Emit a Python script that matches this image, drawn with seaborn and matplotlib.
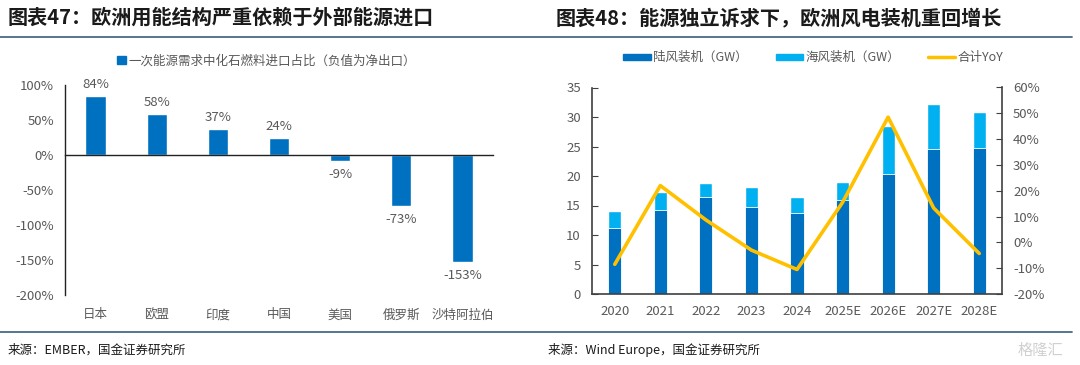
import numpy as np
import matplotlib
matplotlib.use("Agg")
import matplotlib.pyplot as plt
from matplotlib.patches import Patch
from matplotlib.lines import Line2D
from matplotlib.ticker import FuncFormatter
import seaborn as sns

# chart 47 data
countries = ['日本', '欧盟', '印度', '中国', '美国', '俄罗斯', '沙特阿拉伯']
import_share = [84, 58, 37, 24, -9, -73, -153]

# chart 48 data
years = ['2020', '2021', '2022', '2023', '2024', '2025E', '2026E', '2027E', '2028E']
onshore = [11.2, 14.3, 16.4, 14.7, 13.8, 15.9, 20.3, 24.6, 24.8]
offshore = [2.8, 3.0, 2.4, 3.5, 2.6, 3.1, 8.1, 7.6, 6.0]
yoy = [-8.5, 22.0, 8.7, -3.0, -10.5, 15.5, 48.5, 13.3, -4.3]

DARK = '#0070C0'
LIGHT = '#00B0F0'
YELLOW = '#FFC000'
TICK = '#595959'

sns.set_style('white')
plt.rcParams['font.family'] = ['Noto Sans CJK SC', 'DejaVu Sans']

fig = plt.figure(figsize=(10.8, 3.65), dpi=100)

# titles, separator lines, sources
fig.text(0.007, 0.952, '图表47：欧洲用能结构严重依赖于外部能源进口', fontsize=14.5,
         fontweight='bold', color='#1a1a1a', va='center')
fig.text(0.514, 0.952, '图表48：能源独立诉求下，欧洲风电装机重回增长', fontsize=14.5,
         fontweight='bold', color='#1a1a1a', va='center')
for yy in [1 - 37 / 365, 1 - 332 / 365]:
    fig.add_artist(Line2D([0.0, 0.993], [yy, yy], color='#4a6a88', lw=1.3))
fig.text(0.007, 0.04, '来源：EMBER，国金证券研究所', fontsize=9, color='#1a1a1a', va='center')
fig.text(0.507, 0.04, '来源：Wind Europe，国金证券研究所', fontsize=9, color='#1a1a1a', va='center')
fig.text(0.985, 0.04, '格隆汇', fontsize=11, color='#d0d0d0', va='center', ha='right')

# ---------------- left chart ----------------
ax1 = fig.add_axes([65 / 1080, 70 / 365, 428 / 1080, 210 / 365])
sns.barplot(x=countries, y=import_share, color=DARK, width=0.33, saturation=1, ax=ax1)
ax1.set_xlim(-0.5, len(countries) - 0.5)
ax1.set_ylim(-200, 100)
ax1.set_yticks(np.arange(-200, 101, 50))
ax1.yaxis.set_major_formatter(FuncFormatter(lambda v, p: f'{v:.0f}%'))
for s in ['top', 'right']:
    ax1.spines[s].set_visible(False)
ax1.spines['bottom'].set_position(('data', 0))
for s in ['left', 'bottom']:
    ax1.spines[s].set_color('#222222')
    ax1.spines[s].set_linewidth(1)
ax1.tick_params(axis='y', direction='in', length=4, colors='#222222', labelcolor=TICK,
                labelsize=9.5, pad=8)
ax1.set_xticks(np.arange(len(countries)))
ax1.set_xticklabels([])
ax1.tick_params(axis='x', which='major', length=0)
ax1.set_xticks(np.arange(0.5, len(countries) - 0.5, 1), minor=True)
ax1.tick_params(axis='x', which='minor', direction='in', length=4, colors='#222222')
for i, c in enumerate(countries):
    ax1.text(i, -0.095, c, transform=ax1.get_xaxis_transform(), ha='center', va='center',
             fontsize=9, color=TICK)
for i, v in enumerate(import_share):
    if v >= 0:
        ax1.annotate(f'{v}%', (i, v), xytext=(0, 4), textcoords='offset points',
                     ha='center', va='bottom', fontsize=9.5, color=TICK)
    else:
        ax1.annotate(f'{v}%', (i, v), xytext=(0, -5), textcoords='offset points',
                     ha='center', va='top', fontsize=9.5, color=TICK)
ax1.legend(handles=[Patch(color=DARK, label='一次能源需求中化石燃料进口占比（负值为净出口）')],
           loc='center', bbox_to_anchor=(0.47, 1.115), frameon=False, fontsize=9,
           handlelength=0.7, handleheight=0.7, handletextpad=0.2,
           labelcolor=TICK)

# ---------------- right chart ----------------
ax2 = fig.add_axes([592 / 1080, 71 / 365, 410 / 1080, 206.5 / 365])
totals = [a + b for a, b in zip(onshore, offshore)]
sns.barplot(x=years, y=totals, color=LIGHT, width=0.29, saturation=1, ax=ax2)
sns.barplot(x=years, y=onshore, color=DARK, width=0.29, saturation=1, ax=ax2,
            edgecolor='white', linewidth=0.6)
ax2.set_xlim(-0.5, len(years) - 0.5)
ax2.set_ylim(0, 35)
ax2.set_yticks(np.arange(0, 36, 5))
for s in ['top', 'right']:
    ax2.spines[s].set_visible(False)
for s in ['left', 'bottom']:
    ax2.spines[s].set_color('#404040')
    ax2.spines[s].set_linewidth(1.2)
ax2.tick_params(axis='y', direction='in', length=4, colors='#404040', labelcolor=TICK,
                labelsize=9.5, pad=8)
ax2.tick_params(axis='x', which='major', length=0, labelcolor=TICK, labelsize=9.5, pad=8)
ax2.set_xticks(np.arange(0.5, len(years) - 0.5, 1), minor=True)
ax2.tick_params(axis='x', which='minor', direction='in', length=4, colors='#404040')

ax3 = ax2.twinx()
sns.lineplot(x=np.arange(len(years)), y=yoy, color=YELLOW, linewidth=2.6, ax=ax3)
ax3.set_ylim(-20, 60)
ax3.set_yticks(np.arange(-20, 61, 10))
ax3.yaxis.set_major_formatter(FuncFormatter(lambda v, p: f'{v:.0f}%'))
for s in ['top', 'left', 'bottom']:
    ax3.spines[s].set_visible(False)
ax3.spines['right'].set_color('#404040')
ax3.spines['right'].set_linewidth(1.2)
ax3.tick_params(axis='y', direction='in', length=4, colors='#404040', labelcolor=TICK,
                labelsize=9.5, pad=8)
ax3.set_ylabel('')

handles = [Patch(color=DARK, label='陆风装机（GW）'),
           Patch(color=LIGHT, label='海风装机（GW）'),
           Line2D([0], [0], color=YELLOW, lw=2.5, label='合计YoY')]
ax2.legend(handles=handles, loc='center', bbox_to_anchor=(0.54, 1.145), ncol=3,
           frameon=False, fontsize=9, handlelength=2.2, handleheight=0.35,
           handletextpad=0.2, columnspacing=2.2, labelcolor=TICK)

fig.savefig('out.png', dpi=100)
